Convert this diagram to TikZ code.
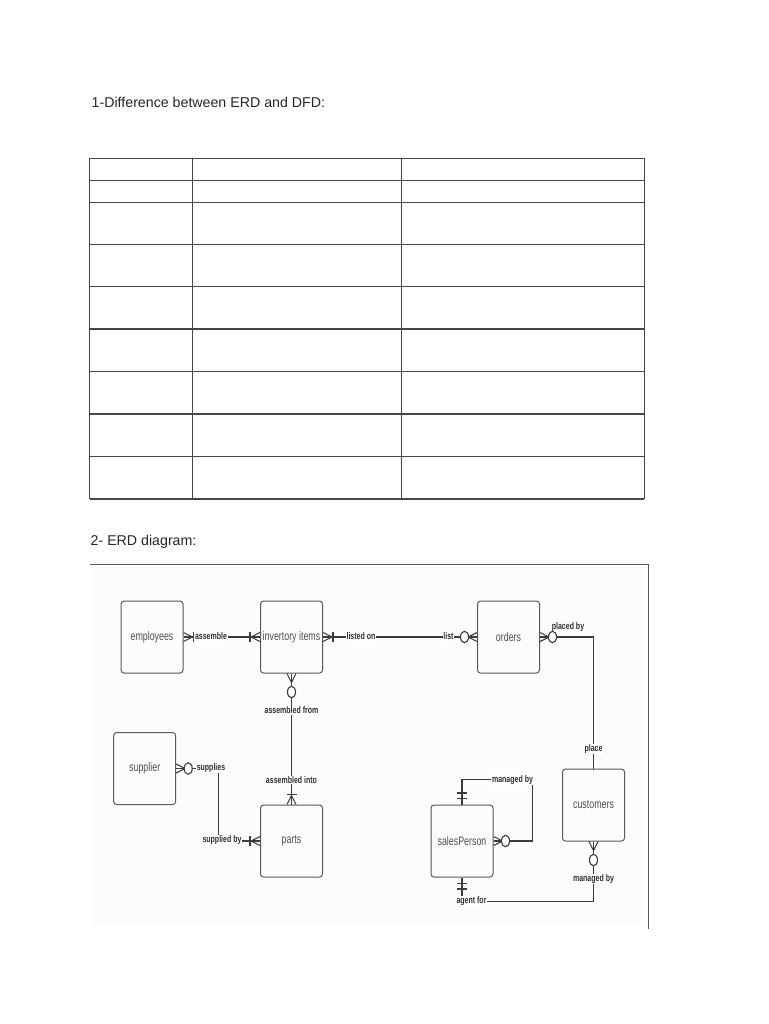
\documentclass[tikz,border=0pt]{standalone}
\usepackage{fontspec}
\setmainfont{Liberation Sans}
\newfontfamily\entfont[FakeStretch=0.72]{Liberation Sans}
\newfontfamily\relfont[FakeStretch=0.73]{Liberation Sans Bold}
\usetikzlibrary{shapes.geometric,calc}
\definecolor{linec}{HTML}{3C3C3C}
\definecolor{boxc}{HTML}{5A5A5A}
\definecolor{entc}{HTML}{505050}
\definecolor{relc}{HTML}{2E2E2E}
\definecolor{tabc}{HTML}{464646}
\tikzset{
  tab/.style={draw=tabc, line width=1.2pt},
  ent/.style={draw=boxc, line width=1pt, rounded corners=3pt, minimum width=62pt, minimum height=72pt, inner sep=0pt,
    font=\entfont\fontsize{12.3}{12}\selectfont, text=entc},
  conn/.style={draw=linec, line width=1.3pt},
  rel/.style={fill=white, inner sep=0.8pt, font=\relfont\fontsize{9.6}{10}\selectfont, text=relc},
  circ/.style={ellipse, draw=linec, fill=white, line width=1.1pt, minimum width=8pt, minimum height=11.5pt, inner sep=0pt},
  pics/crow/.style={code={\draw[conn, line width=1.1pt] (0,-4.5)--(9,0)--(0,4.5);}},
  pics/onebar/.style={code={\draw[conn, line width=1.1pt] (10,-5)--(10,5);}},
  pics/twobar/.style={code={\draw[conn, line width=1.1pt] (6,-5)--(6,5) (11.5,-5)--(11.5,5);}},
}
\begin{document}
\begin{tikzpicture}[x=1pt,y=-1pt]
\useasboundingbox (0,0) rectangle (768,1024);
% headings
\node[anchor=base west, inner sep=0pt, font=\fontsize{14.2}{16}\selectfont, text=black!85] (t1) at (91.5,108) {1-Difference between ERD and DFD:};
\node[anchor=base west, inner sep=0pt, font=\fontsize{14.2}{16}\selectfont, text=black!85] (t2) at (90.5,545.5) {2- ERD diagram:};
% table
\foreach \y in {158.5,180.7,202.3,244.3,286.7,329,371.7,414,456.3,499} {
  \draw[tab] (89.7,\y) -- (644.3,\y);
}
\foreach \x in {89.7,192.5,401.3,644.3} {
  \draw[tab] (\x,158.5) -- (\x,499);
}
% ERD frame
\fill[black!1] (92,566) rectangle (646,926);
\draw[draw=boxc, line width=1.5pt] (90,564.3) -- (648.5,564.3) -- (648.5,928.5);
% entities
\node[ent] (emp) at (152,637) {employees};
\node[ent] (inv) at (291.5,637) {invertory items};
\node[ent] (ord) at (508.5,637) {orders};
\node[ent] (sup) at (144.7,768.5) {supplier};
\node[ent] (parts) at (291.5,841) {parts};
\node[ent] (sp) at (462,841) {salesPerson};
\node[ent] (cust) at (593.5,805) {customers};
% connectors
\draw[conn] (emp.east) -- (inv.west);
\draw[conn] (inv.east) -- (ord.west);
\draw[conn] (ord.east) -| (cust.north);
\draw[conn] (inv.south) -- (parts.north);
\draw[conn] (sup.east) -- ++(42,0) |- (parts.west);
\draw[conn] (sp.north) -- ++(0,-25) -| ($(sp.east)+(39,0)$) -- (sp.east);
\draw[conn] (cust.south) -- ++(0,60) -| (sp.south);
% markers
\pic at (emp.east) {crow}; \pic at (emp.east) {onebar};
\pic[rotate=180] at (inv.west) {crow}; \pic[rotate=180] at (inv.west) {onebar};
\pic at (inv.east) {crow}; \pic at (inv.east) {onebar};
\pic[rotate=180] at (ord.west) {crow};
\node[circ] (c1) at ($(ord.west)+(-12.5,0)$) {};
\pic at (ord.east) {crow};
\node[circ] (c2) at ($(ord.east)+(12.5,0)$) {};
\pic[rotate=-90] at (inv.south) {crow};
\node[circ] (c3) at ($(inv.south)+(0,18.5)$) {};
\pic[rotate=90] at (parts.north) {crow}; \pic[rotate=90] at (parts.north) {onebar};
\pic at (sup.east) {crow};
\node[circ] (c4) at ($(sup.east)+(12,0)$) {};
\pic[rotate=180] at (parts.west) {crow}; \pic[rotate=180] at (parts.west) {onebar};
\pic[rotate=90] at (sp.north) {twobar};
\pic at (sp.east) {crow};
\node[circ] (c5) at ($(sp.east)+(12,0)$) {};
\pic[rotate=-90] at (cust.south) {crow};
\node[circ] (c6) at ($(cust.south)+(0,18.5)$) {};
\pic[rotate=-90] at (sp.south) {twobar};
% relationship labels
\node[rel] (l1) at (211,636.5) {assemble};
\node[rel] (l2) at (361,636.5) {listed on};
\node[rel] (l3) at (448.5,636.5) {list};
\node[rel, fill=none] (l4) at (568,627) {placed by};
\node[rel] (l5) at (593.5,749) {place};
\node[rel] (l6) at (291.5,710.5) {assembled from};
\node[rel] (l7) at (291.5,780) {assembled into};
\node[rel] (l8) at (211,768) {supplies};
\node[rel] (l9) at (222,840.5) {supplied by};
\node[rel] (l10) at (512.5,780) {managed by};
\node[rel] (l11) at (593.5,879) {managed by};
\node[rel] (l12) at (471.5,901) {agent for};
\end{tikzpicture}
\end{document}
